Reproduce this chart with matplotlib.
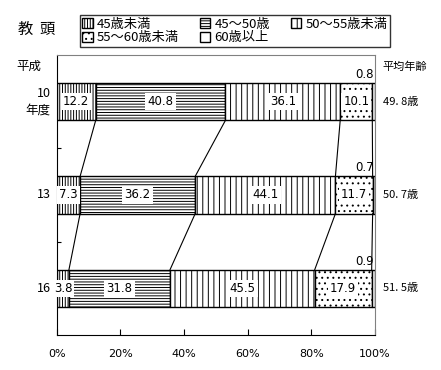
import numpy as np
import matplotlib
matplotlib.use('Agg')
import matplotlib.pyplot as plt
from matplotlib.patches import Patch

plt.rcParams['font.family'] = ['Noto Sans CJK JP', 'DejaVu Sans']
plt.rcParams['hatch.linewidth'] = 0.7

years = ['10\n年度', '13', '16']
series_names = ['45歳未満', '45～50歳', '50～55歳未満', '55～60歳未満', '60歳以上']
under45 = [12.2, 7.3, 3.8]
age45_50 = [40.8, 36.2, 31.8]
age50_55 = [36.1, 44.1, 45.5]
age55_60 = [10.1, 11.7, 17.9]
over60 = [0.8, 0.7, 0.9]
avg_age = ['49. 8歳', '50. 7歳', '51. 5歳']

hatches = ['||||||', '------', '|||', '...', '']
data = np.array([under45, age45_50, age50_55, age55_60, over60])

fig = plt.figure(figsize=(4.41, 3.70), dpi=100)
ax = fig.add_axes([0.129, 0.095, 0.721, 0.756])

ypos = np.arange(len(years))
bar_h = 0.4
left = np.zeros(len(years))
for i, vals in enumerate(data):
    ax.barh(ypos, vals, left=left, height=bar_h, color='white',
            edgecolor='black', hatch=hatches[i], linewidth=1.0)
    if i < 4:
        for j, v in enumerate(vals):
            ax.text(left[j] + v / 2, ypos[j], f'{v:.1f}', ha='center', va='center',
                    fontsize=8.5, family=['DejaVu Sans'],
                    bbox=dict(facecolor='white', edgecolor='none', pad=1.5))
    else:
        for j, v in enumerate(vals):
            ax.text(99.8, ypos[j] - bar_h / 2 - 0.02, f'{v:.1f}', ha='right', va='bottom',
                    fontsize=8.5, family=['DejaVu Sans'])
    left = left + vals

# lines joining the segment boundaries of neighbouring bars
cum = np.cumsum(data, axis=0)
for k in range(4):
    for j in range(len(years) - 1):
        ax.plot([cum[k, j], cum[k, j + 1]],
                [ypos[j] + bar_h / 2, ypos[j + 1] - bar_h / 2],
                color='black', linewidth=0.8)

ax.set_xlim(0, 100)
ax.set_ylim(len(years) - 0.5, -0.5)
ax.set_xticks([0, 20, 40, 60, 80, 100])
ax.set_xticklabels(['0%', '20%', '40%', '60%', '80%', '100%'], family=['DejaVu Sans'], fontsize=8)
ax.tick_params(axis='x', direction='in', length=4, pad=10)
ax.set_yticks([0.5, 1.5])
ax.set_yticklabels([])
ax.tick_params(axis='y', direction='in', length=3)
ax.spines['top'].set_color('gray')
ax.spines['right'].set_color('gray')

for j, lab in enumerate(years):
    ax.text(-2, ypos[j], lab, ha='right', va='center', fontsize=9,
            clip_on=False, linespacing=1.3)
    ax.text(102.5, ypos[j], avg_age[j], ha='left', va='center', fontsize=8, clip_on=False)
ax.text(-5, -0.38, '平成', ha='right', va='center', fontsize=9)
ax.text(102.5, -0.38, '平均年齢', ha='left', va='center', fontsize=8)

fig.text(0.04, 0.92, '教  頭', fontsize=11, va='center')

handles = [Patch(facecolor='white', edgecolor='black', hatch=h, label=n)
           for h, n in zip(hatches, series_names)]
order = [0, 3, 1, 4, 2]
leg = fig.legend(handles=[handles[i] for i in order], ncol=3, loc='upper left',
                 bbox_to_anchor=(0.181, 0.870, 0.703, 0.089), mode='expand',
                 borderaxespad=0, fontsize=9.5, frameon=True, fancybox=False,
                 edgecolor='black', handlelength=0.8, handleheight=0.8,
                 handletextpad=0.3, borderpad=0.2, labelspacing=0.05,
                 columnspacing=1.0)
leg.get_frame().set_linewidth(1.0)

fig.savefig('out.png', dpi=100)
